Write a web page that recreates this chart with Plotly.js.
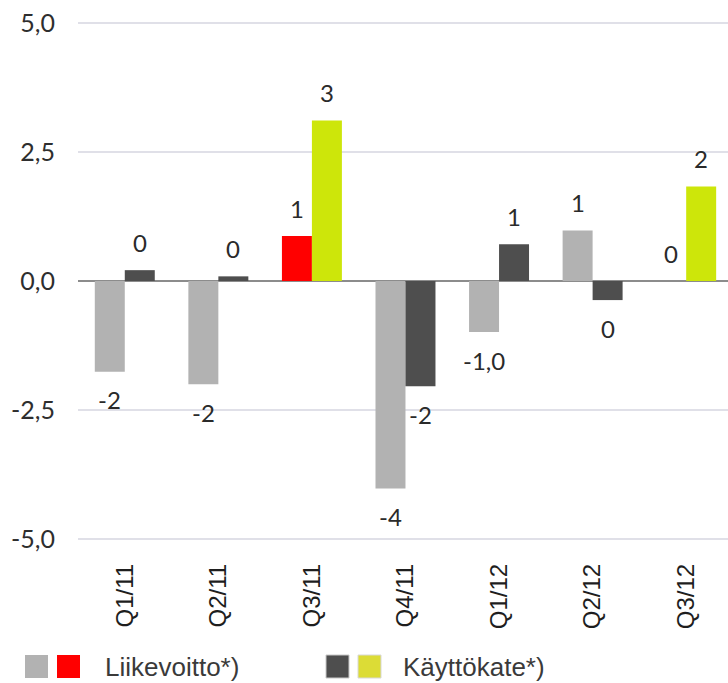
<!DOCTYPE html>
<html>
<head>
<meta charset="utf-8">
<script src="https://cdn.plot.ly/plotly-3.0.1.min.js"></script>
<style>html,body{margin:0;padding:0;background:#fff;}#chart{width:728px;height:683px;}</style>
</head>
<body>
<div id="chart"></div>
<script>
// ---- data ----
const categories = ['Q1/11', 'Q2/11', 'Q3/11', 'Q4/11', 'Q1/12', 'Q2/12', 'Q3/12'];
const liikevoitto = [-1.76, -2.0, 0.87, -4.02, -0.99, 0.98, 0];
const kayttokate = [0.21, 0.09, 3.11, -2.04, 0.71, -0.37, 1.83];
const liikevoittoLabels = ['-2', '-2', '1', '-4', '-1,0', '1', '0'];
const kayttokateLabels = ['0', '0', '3', '-2', '1', '0', '2'];
const yTicks = [-5, -2.5, 0, 2.5, 5];
const yTickLabels = ['-5,0', '-2,5', '0,0', '2,5', '5,0'];
const highlightL = ['Q3/11'];
const highlightK = ['Q3/11', 'Q3/12'];
const seriesNames = ['Liikevoitto*)', 'Käyttökate*)'];

// ---- styles ----
const GRAY = '#b2b2b2', RED = '#ff0000', DARK = '#4e4e4e', LIME = '#cde60a', LEG_LIME = '#dcdc36';
const colL = categories.map(c => highlightL.includes(c) ? RED : GRAY);
const colK = categories.map(c => highlightK.includes(c) ? LIME : DARK);

const W = 728, H = 683, ML = 78, MT = 20, MB = 141;
const PW = W - ML, PH = H - MT - MB;
const px = x => (x - ML) / PW;
const py = y => (H - MB - y) / PH;

const traces = [
  {type: 'bar', x: categories, y: liikevoitto, name: seriesNames[0], marker: {color: colL}, hoverinfo: 'skip'},
  {type: 'bar', x: categories, y: kayttokate, name: seriesNames[1], marker: {color: colK}, hoverinfo: 'skip'}
];

const labelFont = {family: 'Lato, sans-serif', size: 24, color: '#2a2a2a'};
const annotations = [];
categories.forEach((c, i) => {
  annotations.push({x: c, y: liikevoitto[i], xref: 'x', yref: 'y', text: liikevoittoLabels[i], showarrow: false,
    xshift: -15, yshift: liikevoitto[i] >= 0 ? 28 : -28, yanchor: 'middle', xanchor: 'center', font: labelFont});
  annotations.push({x: c, y: kayttokate[i], xref: 'x', yref: 'y', text: kayttokateLabels[i], showarrow: false,
    xshift: 15, yshift: kayttokate[i] >= 0 ? 28 : -28, yanchor: 'middle', xanchor: 'center', font: labelFont});
});
const legFont = {family: 'Liberation Sans, Arial, sans-serif', size: 26, color: '#3a3a3a'};
annotations.push({xref: 'paper', yref: 'paper', x: px(103), y: py(667), text: seriesNames[0], showarrow: false,
  xanchor: 'left', yanchor: 'middle', font: legFont});
annotations.push({xref: 'paper', yref: 'paper', x: px(401), y: py(667), text: seriesNames[1], showarrow: false,
  xanchor: 'left', yanchor: 'middle', font: legFont});

function sq(x0, color, border) {
  return {type: 'rect', xref: 'paper', yref: 'paper', x0: px(x0), x1: px(x0 + 23), y0: py(678), y1: py(655),
    fillcolor: color, line: {width: border ? 1 : 0, color: border || color}, layer: 'above'};
}
const shapes = [sq(25, GRAY), sq(57, RED), sq(326, DARK, '#c8c8c8'), sq(358, LEG_LIME, '#d8d8d8')];

const layout = {
  width: W, height: H,
  margin: {l: ML, r: 0, t: MT, b: MB, pad: 0},
  paper_bgcolor: '#fff', plot_bgcolor: '#fff',
  separators: ', ',
  barmode: 'group', bargap: 0.359, bargroupgap: 0,
  showlegend: false,
  xaxis: {
    type: 'category', range: [-0.5, 6.447], tickangle: -90,
    tickfont: {family: 'Liberation Sans, Arial, sans-serif', size: 24, color: '#1e1e1e'},
    showgrid: false, showline: false, zeroline: false, ticks: '', ticklabelstandoff: 16, fixedrange: true
  },
  yaxis: {
    range: [-5.058, 5.058], tickmode: 'array', tickvals: yTicks, ticktext: yTickLabels,
    tickfont: {family: 'Lato, sans-serif', size: 25, color: '#2e2e2e'},
    showgrid: true, gridcolor: '#e0e0e8', gridwidth: 1.3,
    zeroline: true, zerolinecolor: '#8c8c8c', zerolinewidth: 2,
    showline: false, ticks: '', ticklabelstandoff: 22, fixedrange: true
  },
  annotations: annotations,
  shapes: shapes
};

Plotly.newPlot('chart', traces, layout, {displayModeBar: false, staticPlot: true});
</script>
</body>
</html>
